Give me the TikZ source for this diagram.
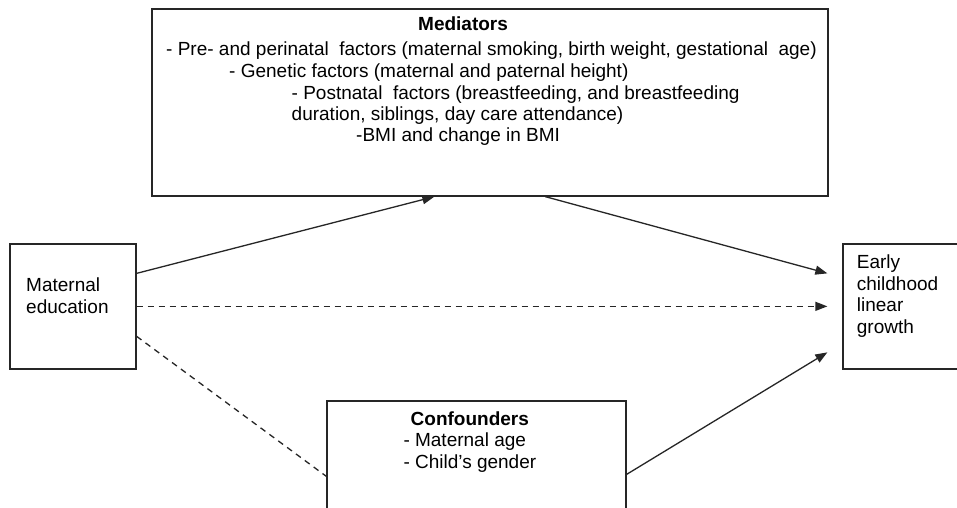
\documentclass[tikz,border=0pt]{standalone}
\usepackage{fontspec}
\setmainfont{Liberation Sans}
\usetikzlibrary{arrows.meta,calc}
\tikzset{
  box/.style={draw=black!85, line width=1.3pt, rectangle, inner sep=0pt},
  txt/.style={anchor=base west, inner sep=0pt, font=\fontsize{19}{21.7}\selectfont},
  btxt/.style={txt, font=\fontsize{19}{21.7}\selectfont\bfseries},
  conn/.style={line width=1.3pt, black!85},
  arr/.style={conn, -{Triangle[length=12pt,width=9pt]}},
  dsh/.style={conn, dash pattern=on 6pt off 5pt},
}
\begin{document}
\begin{tikzpicture}[x=1pt,y=-1pt]
\useasboundingbox[fill=white] (0,0) rectangle (957,507);
% boxes
\node[box, minimum width=676pt, minimum height=187pt] (med) at (490,102.5) {};
\node[box, minimum width=126pt, minimum height=125pt] (me) at (73,306.5) {};
\node[box, minimum width=120pt, minimum height=125pt] (ec) at (903,306.5) {};
\node[box, minimum width=299pt, minimum height=140pt] (conf) at (476.5,471) {};
% mediator texts
\node[btxt] (medt) at (418,30.7) {Mediators};
\node[txt] (m1) at (166,55.5) {- Pre- and perinatal\ \ factors (maternal smoking, birth weight, gestational\ \ age)};
\node[txt] (m2) at (229,77.3) {- Genetic factors (maternal and paternal height)};
\node[txt] (m3) at (291.5,99) {- Postnatal\ \ factors (breastfeeding, and breastfeeding};
\node[txt] (m4) at (291.5,120.5) {duration, siblings, day care attendance)};
\node[txt] (m5) at (356,141.5) {-BMI and change in BMI};
% maternal education
\node[txt] (me1) at (26,291.7) {Maternal};
\node[txt] (me2) at (26,313.3) {education};
% early childhood
\node[txt] (ec1) at (856.7,268.3) {Early};
\node[txt] (ec2) at (856.7,290) {childhood};
\node[txt] (ec3) at (856.7,311.7) {linear};
\node[txt] (ec4) at (856.7,333.3) {growth};
% confounders
\node[btxt] (ct) at (410.5,425) {Confounders};
\node[txt] (c1) at (403.3,446.7) {- Maternal age};
\node[txt] (c2) at (403.3,468.3) {- Child’s gender};
% connector end points
\coordinate (meA) at ($(me.north east)+(0,30)$);
\coordinate (meB) at ($(me.north east)+(0,63)$);
\coordinate (meC) at ($(me.north east)+(0,93)$);
\coordinate (medIn) at ($(med.south west)+(283,0)$);
\coordinate (medOut) at ($(med.south west)+(394,0)$);
\coordinate (ecA) at ($(ec.north west)+(-15,30)$);
\coordinate (ecB) at ($(ec.north west)+(-15,63)$);
\coordinate (ecC) at ($(ec.north west)+(-15,109)$);
\coordinate (confL) at ($(conf.north west)+(0,76)$);
\coordinate (confR) at ($(conf.north east)+(0,74)$);
% connectors
\draw[arr] (meA) -- (medIn);
\draw[arr] (medOut) -- (ecA);
\draw[arr, dash pattern=on 6pt off 5pt] (meB) -- (ecB);
\draw[dsh] (meC) -- (confL);
\draw[arr] (confR) -- (ecC);
\end{tikzpicture}
\end{document}
